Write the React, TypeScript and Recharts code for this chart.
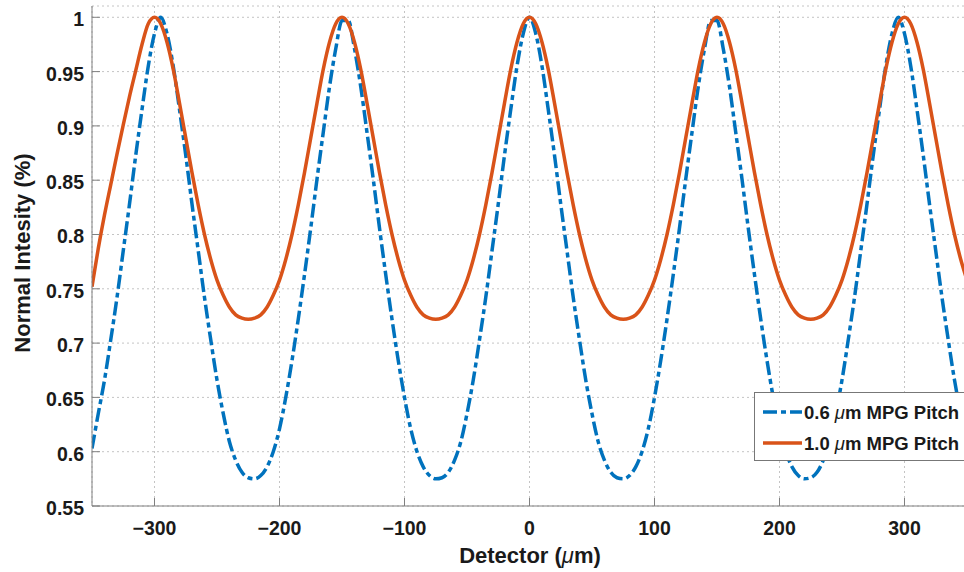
import React from "react";
import { CartesianGrid, Legend, Line, LineChart, XAxis, YAxis } from "recharts";

// detector position (µm)
const detectorX = [
  -350, -345, -340, -335, -330, -325, -320, -315, -310, -305,
  -300, -295, -290, -285, -280, -275, -270, -265, -260, -255,
  -250, -245, -240, -235, -230, -225, -220, -215, -210, -205,
  -200, -195, -190, -185, -180, -175, -170, -165, -160, -155,
  -150, -145, -140, -135, -130, -125, -120, -115, -110, -105,
  -100, -95, -90, -85, -80, -75, -70, -65, -60, -55,
  -50, -45, -40, -35, -30, -25, -20, -15, -10, -5,
  0, 5, 10, 15, 20, 25, 30, 35, 40, 45,
  50, 55, 60, 65, 70, 75, 80, 85, 90, 95,
  100, 105, 110, 115, 120, 125, 130, 135, 140, 145,
  150, 155, 160, 165, 170, 175, 180, 185, 190, 195,
  200, 205, 210, 215, 220, 225, 230, 235, 240, 245,
  250, 255, 260, 265, 270, 275, 280, 285, 290, 295,
  300, 305, 310, 315, 320, 325, 330, 335, 340, 345,
  350,
];

// 0.6 µm MPG pitch
const pitch06 = [
  0.603, 0.635, 0.666, 0.703, 0.742, 0.785, 0.828, 0.873, 0.915, 0.955,
  0.985, 1.0, 0.985, 0.955, 0.915, 0.873, 0.828, 0.785, 0.742, 0.703,
  0.666, 0.635, 0.609, 0.592, 0.581, 0.576, 0.575, 0.578, 0.586, 0.6,
  0.621, 0.65, 0.684, 0.722, 0.763, 0.806, 0.851, 0.894, 0.936, 0.971,
  0.997, 0.997, 0.971, 0.936, 0.894, 0.851, 0.806, 0.763, 0.722, 0.684,
  0.65, 0.621, 0.6, 0.586, 0.578, 0.575, 0.576, 0.581, 0.592, 0.609,
  0.635, 0.666, 0.703, 0.742, 0.785, 0.828, 0.873, 0.915, 0.955, 0.985,
  1.0, 0.985, 0.955, 0.915, 0.873, 0.828, 0.785, 0.742, 0.703, 0.666,
  0.635, 0.609, 0.592, 0.581, 0.576, 0.575, 0.578, 0.586, 0.6, 0.621,
  0.65, 0.684, 0.722, 0.763, 0.806, 0.851, 0.894, 0.936, 0.971, 0.997,
  0.997, 0.971, 0.936, 0.894, 0.851, 0.806, 0.763, 0.722, 0.684, 0.65,
  0.621, 0.6, 0.586, 0.578, 0.575, 0.576, 0.581, 0.592, 0.609, 0.635,
  0.666, 0.703, 0.742, 0.785, 0.828, 0.873, 0.915, 0.955, 0.985, 1.0,
  0.985, 0.955, 0.915, 0.873, 0.828, 0.785, 0.742, 0.703, 0.666, 0.635,
  0.609,
];

// 1.0 µm MPG pitch
const pitch10 = [
  0.752, 0.787, 0.818, 0.846, 0.874, 0.901, 0.927, 0.951, 0.975, 0.994,
  1.0, 0.994, 0.977, 0.952, 0.921, 0.889, 0.857, 0.827, 0.8, 0.777,
  0.758, 0.744, 0.733, 0.726, 0.723, 0.722, 0.723, 0.726, 0.733, 0.744,
  0.758, 0.777, 0.8, 0.827, 0.857, 0.889, 0.921, 0.952, 0.977, 0.994,
  1.0, 0.994, 0.977, 0.952, 0.921, 0.889, 0.857, 0.827, 0.8, 0.777,
  0.758, 0.744, 0.733, 0.726, 0.723, 0.722, 0.723, 0.726, 0.733, 0.744,
  0.758, 0.777, 0.8, 0.827, 0.857, 0.889, 0.921, 0.952, 0.977, 0.994,
  1.0, 0.994, 0.977, 0.952, 0.921, 0.889, 0.857, 0.827, 0.8, 0.777,
  0.758, 0.744, 0.733, 0.726, 0.723, 0.722, 0.723, 0.726, 0.733, 0.744,
  0.758, 0.777, 0.8, 0.827, 0.857, 0.889, 0.921, 0.952, 0.977, 0.994,
  1.0, 0.994, 0.977, 0.952, 0.921, 0.889, 0.857, 0.827, 0.8, 0.777,
  0.758, 0.744, 0.733, 0.726, 0.723, 0.722, 0.723, 0.726, 0.733, 0.744,
  0.758, 0.777, 0.8, 0.827, 0.857, 0.889, 0.921, 0.952, 0.977, 0.994,
  1.0, 0.994, 0.977, 0.952, 0.921, 0.889, 0.857, 0.827, 0.8, 0.777,
  0.758,
];

const xTicks = [-300, -200, -100, 0, 100, 200, 300];
const yTicks = [0.55, 0.6, 0.65, 0.7, 0.75, 0.8, 0.85, 0.9, 0.95, 1];

const rows = detectorX.map((x, i) => ({ x, p06: pitch06[i], p10: pitch10[i] }));

const BLUE = "#0072BD";
const ORANGE = "#D95319";
const AXIS = "#808080";
const INK = "#1a1a1a";
const FONT = "'Liberation Sans', Arial, Helvetica, sans-serif";
const DASH = "14 4 5 4";

const PLOT_LEFT = 92;
const PLOT_TOP = 6;
const PLOT_BOTTOM = 506;
const TICK_LEN = 8;

const fmtX = (v: number) => (v < 0 ? "\u2212" + Math.abs(v) : String(v));

const BottomTick = (props: any) => {
  const { x, payload } = props;
  return (
    <g>
      <line x1={x} x2={x} y1={PLOT_BOTTOM} y2={PLOT_BOTTOM - TICK_LEN} stroke={AXIS} />
      <text x={x} y={534.5} textAnchor="middle" fill={INK} fontSize={19.5} fontWeight="bold" fontFamily={FONT}>
        {fmtX(payload.value)}
      </text>
    </g>
  );
};

const TopTick = (props: any) => {
  const { x } = props;
  return <line x1={x} x2={x} y1={PLOT_TOP} y2={PLOT_TOP + TICK_LEN} stroke={AXIS} />;
};

const LeftTick = (props: any) => {
  const { y, payload } = props;
  return (
    <g>
      <line x1={PLOT_LEFT} x2={PLOT_LEFT + TICK_LEN} y1={y} y2={y} stroke={AXIS} />
      <text x={84} y={y + 9} textAnchor="end" fill={INK} fontSize={19.5} fontWeight="bold" fontFamily={FONT}>
        {String(payload.value)}
      </text>
    </g>
  );
};

const Mu = () => (
  <tspan fontStyle="italic" fontWeight="normal">
    μ
  </tspan>
);

const LegendBox = () => (
  <svg width={213} height={69} style={{ display: "block" }}>
    <rect x={0.5} y={0.5} width={212} height={68} fill="#fff" stroke="#777" />
    <line x1={9} x2={48} y1={20} y2={20} stroke={BLUE} strokeWidth={3.5} strokeDasharray={DASH} />
    <text x={50} y={26.5} fill={INK} fontSize={18.5} fontWeight="bold" fontFamily={FONT}>
      0.6 <Mu />m MPG Pitch
    </text>
    <line x1={9} x2={48} y1={51} y2={51} stroke={ORANGE} strokeWidth={3.5} />
    <text x={50} y={57.5} fill={INK} fontSize={18.5} fontWeight="bold" fontFamily={FONT}>
      1.0 <Mu />m MPG Pitch
    </text>
  </svg>
);

export default function App() {
  return (
    <div
      style={{
        position: "absolute",
        left: 0,
        top: 0,
        width: 964,
        height: 572,
        overflow: "hidden",
        background: "#fff",
      }}
    >
      <LineChart width={967} height={572} data={rows} margin={{ top: PLOT_TOP, right: 0, bottom: 0, left: 0 }}>
        <CartesianGrid stroke="#c4c4c4" strokeDasharray="2 3" />
        <XAxis
          dataKey="x"
          type="number"
          domain={[-350, 350]}
          ticks={xTicks}
          interval={0}
          allowDataOverflow
          height={66}
          axisLine={{ stroke: AXIS }}
          tickLine={false}
          tick={<BottomTick />}
          label={() => (
            <text x={530} y={563} textAnchor="middle" fill={INK} fontSize={22} fontWeight="bold" fontFamily={FONT}>
              Detector (<Mu />m)
            </text>
          )}
        />
        <XAxis
          xAxisId="top"
          orientation="top"
          dataKey="x"
          type="number"
          domain={[-350, 350]}
          ticks={xTicks}
          interval={0}
          allowDataOverflow
          height={0}
          axisLine={{ stroke: AXIS }}
          tickLine={false}
          tick={<TopTick />}
        />
        <YAxis
          type="number"
          domain={[0.55, 1.0104]}
          ticks={yTicks}
          interval={0}
          allowDataOverflow
          width={PLOT_LEFT}
          axisLine={{ stroke: AXIS }}
          tickLine={false}
          tick={<LeftTick />}
          label={() => (
            <text
              x={30}
              y={253}
              transform="rotate(-90 30 253)"
              textAnchor="middle"
              fill={INK}
              fontSize={22}
              fontWeight="bold"
              fontFamily={FONT}
            >
              Normal Intesity (%)
            </text>
          )}
        />
        <Line
          dataKey="p06"
          name="0.6 μm MPG Pitch"
          type="monotone"
          stroke={BLUE}
          strokeWidth={3.5}
          strokeDasharray={DASH}
          dot={false}
          activeDot={false}
          isAnimationActive={false}
        />
        <Line
          dataKey="p10"
          name="1.0 μm MPG Pitch"
          type="monotone"
          stroke={ORANGE}
          strokeWidth={3.5}
          dot={false}
          activeDot={false}
          isAnimationActive={false}
        />
        <Legend
          layout="vertical"
          align="center"
          verticalAlign="middle"
          wrapperStyle={{ left: 754, top: 392, width: 213, height: 69 }}
          content={() => <LegendBox />}
        />
      </LineChart>
    </div>
  );
}
